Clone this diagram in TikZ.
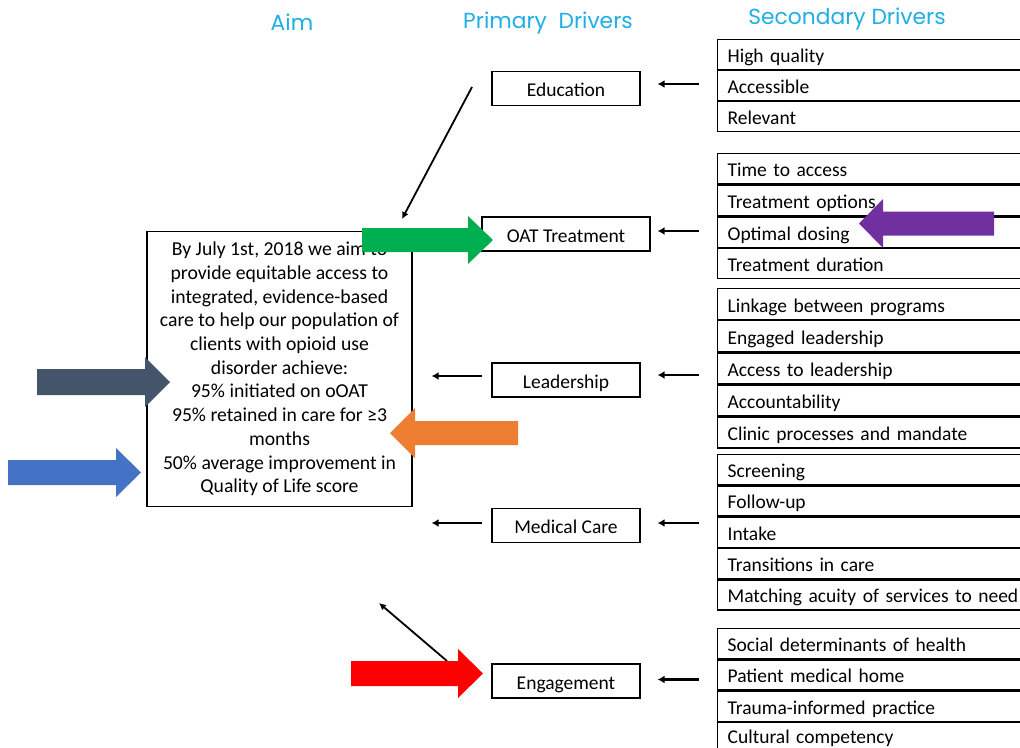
\documentclass[tikz,border=0pt]{standalone}
\usepackage{fontspec}
\setmainfont{Carlito}
\newfontfamily\headfont{Poppins}
\usetikzlibrary{arrows.meta,calc}
\definecolor{headcol}{RGB}{30,175,230}
\definecolor{cgreen}{HTML}{00B050}
\definecolor{cslate}{HTML}{44546A}
\definecolor{cblue}{HTML}{4472C4}
\definecolor{corange}{HTML}{ED7D31}
\definecolor{cpurple}{HTML}{7030A0}
\definecolor{cred}{HTML}{FF0000}
\tikzset{
  head/.style={text=headcol, font=\headfont\fontsize{21.8}{25}\selectfont, inner sep=0pt},
  prim/.style={draw, line width=1.2pt, minimum width=148pt, minimum height=34pt, inner sep=0pt,
    text height=16pt, text depth=0pt, font=\fontsize{19.5}{23}\selectfont},
  secrow/.style={draw, line width=1.3pt, minimum height=#1, text width=300pt, inner xsep=10pt,
    inner ysep=0pt, text height=17pt, text depth=1pt, align=left, anchor=north west,
    font=\fontsize{19.5}{23}\selectfont},
  aimbox/.style={draw, line width=1.2pt, minimum width=265pt, minimum height=275pt, inner sep=0pt,
    align=center, font=\fontsize{19.7}{23.7}\selectfont},
  sarr/.style={line width=2.2pt, -{Latex[length=7pt,width=8pt]}},
  darr/.style={line width=1.8pt, -{Latex[length=7pt,width=7pt]}},
  block/.style={fill=#1, draw=none}
}
\begin{document}
\begin{tikzpicture}[x=1pt,y=-1pt]
\useasboundingbox (0,0) rectangle (1020,747);
\clip (0,0) rectangle (1020,747);
\fill[white] (0,0) rectangle (1020,747);

% headers
\node[head] (hAim) at (292,22) {Aim};
\node[head] (hPri) at (548,23) {Primary\ \ Drivers};
\node[head] (hSec) at (847,19) {Secondary Drivers};

% aim box
\node[aimbox] (aim) at (279.5,369) {By July 1st, 2018 we aim to\\
provide equitable access to\\
integrated, evidence-based\\
care to help our population of\\
clients with opioid use\\
disorder achieve:\\
95\% initiated on oOAT\\
95\% retained in care for ≥3\\
months\\
50\% average improvement in\\
Quality of Life score};

% primary drivers
\node[prim] (edu) at (566,88.5) {Education};
\node[prim, minimum width=168pt] (oat) at (566,234) {OAT Treatment};
\node[prim] (lead) at (566,380) {Leadership};
\node[prim] (med) at (566,525.5) {Medical Care};
\node[prim] (eng) at (566,681) {Engagement};

% secondary drivers
\node[secrow=29.7pt] (s11) at (717,39) {High quality};
\node[secrow=29.7pt] (s12) at (s11.south west) {Accessible};
\node[secrow=29.7pt] (s13) at (s12.south west) {Relevant};

\node[secrow=30.3pt] (s21) at (717,153) {Time to access};
\node[secrow=30.3pt] (s22) at (s21.south west) {Treatment options};
\node[secrow=30.3pt] (s23) at (s22.south west) {Optimal dosing};
\node[secrow=30.3pt] (s24) at (s23.south west) {Treatment duration};

\node[secrow=30.8pt] (s31) at (717,288) {Linkage between programs};
\node[secrow=30.8pt] (s32) at (s31.south west) {Engaged leadership};
\node[secrow=30.8pt] (s33) at (s32.south west) {Access to leadership};
\node[secrow=30.8pt] (s34) at (s33.south west) {Accountability};
\node[secrow=30.8pt] (s35) at (s34.south west) {Clinic processes and mandate};

\node[secrow=30pt] (s41) at (717,454) {Screening};
\node[secrow=30pt] (s42) at (s41.south west) {Follow-up};
\node[secrow=30pt] (s43) at (s42.south west) {Intake};
\node[secrow=30pt] (s44) at (s43.south west) {Transitions in care};
\node[secrow=30pt] (s45) at (s44.south west) {Matching acuity of services to need};

\node[secrow=30pt] (s51) at (717,628) {Social determinants of health};
\node[secrow=30pt] (s52) at (s51.south west) {Patient medical home};
\node[secrow=30pt] (s53) at (s52.south west) {Trauma-informed practice};
\node[secrow=30pt, text height=14pt, text depth=2pt] (s54) at (s53.south west) {Cultural competency};

% secondary -> primary arrows
\draw[sarr, shorten <=18pt, shorten >=17pt] ($(edu.east -| s12.west)+(0,-4.5)$) -- ($(edu.east)+(0,-4.5)$);
\draw[sarr, shorten <=18pt, shorten >=7pt] ($(oat.east -| s22.west)+(0,-3)$) -- ($(oat.east)+(0,-3)$);
\draw[sarr, shorten <=18pt, shorten >=17pt] ($(lead.east -| s33.west)+(0,-5)$) -- ($(lead.east)+(0,-5)$);
\draw[sarr, shorten <=18pt, shorten >=17pt] ($(med.east -| s43.west)+(0,-2.5)$) -- ($(med.east)+(0,-2.5)$);
\draw[sarr, shorten <=18pt, shorten >=17pt] ($(eng.east -| s52.west)+(0,-1.5)$) -- ($(eng.east)+(0,-1.5)$);

% primary -> aim arrows
\draw[sarr, shorten <=9pt, shorten >=19pt] ($(lead.west)+(0,-4)$) -- ($(lead.west -| aim.east)+(0,-4)$);
\draw[sarr, shorten <=9pt, shorten >=19pt] ($(med.west)+(0,-2.5)$) -- ($(med.west -| aim.east)+(0,-2.5)$);

% diagonal arrows
\coordinate (d1s) at (472,87);
\coordinate (d1e) at (402,219);
\draw[darr] (d1s) -- (d1e);
\coordinate (e1s) at (447,661);
\coordinate (e1e) at (379,603);
\draw[darr] (e1s) -- (e1e);

% block arrows
\fill[block=cgreen] (362,228) -- (468,228) -- (468,216) -- (493,240) -- (468,264) -- (468,252) -- (362,252) -- cycle;
\fill[block=cslate] (37,369) -- (145,369) -- (145,357) -- (170,382) -- (145,407) -- (145,395) -- (37,395) -- cycle;
\fill[block=cblue] (8,460) -- (116,460) -- (116,448) -- (141,472.5) -- (116,497) -- (116,485) -- (8,485) -- cycle;
\fill[block=corange] (518,421) -- (415,421) -- (415,408) -- (390,433) -- (415,458) -- (415,445) -- (518,445) -- cycle;
\fill[block=cpurple] (994,211.5) -- (883,211.5) -- (883,199) -- (859,223.5) -- (883,248) -- (883,235.5) -- (994,235.5) -- cycle;
\fill[block=cred] (351,661) -- (458,661) -- (458,649) -- (483,673.5) -- (458,698) -- (458,686) -- (351,686) -- cycle;
\end{tikzpicture}
\end{document}
